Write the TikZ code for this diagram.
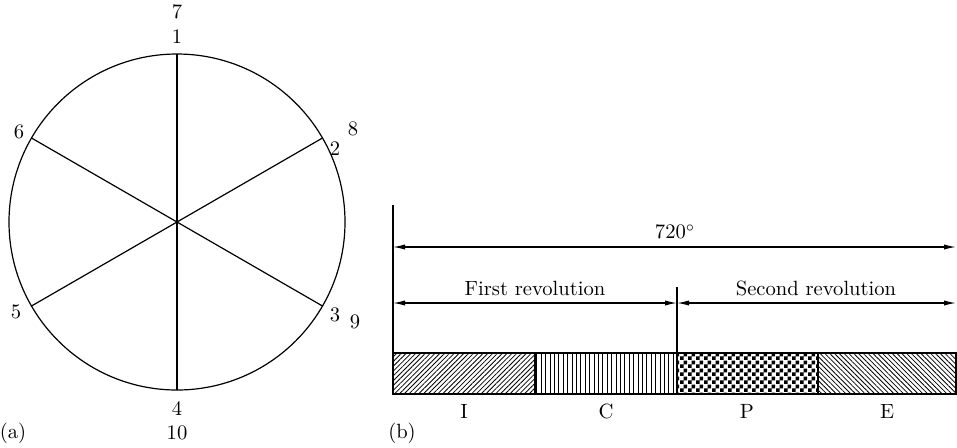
\documentclass[tikz,border=0pt]{standalone}
\usetikzlibrary{arrows.meta,patterns,patterns.meta,calc}
\pgfdeclarepatternformonly{finechecker}{\pgfqpoint{0pt}{0pt}}{\pgfqpoint{4pt}{4pt}}{\pgfqpoint{4pt}{4pt}}{%
  \pgfpathrectangle{\pgfqpoint{0pt}{0pt}}{\pgfqpoint{2pt}{2pt}}%
  \pgfpathrectangle{\pgfqpoint{2pt}{2pt}}{\pgfqpoint{2pt}{2pt}}%
  \pgfusepath{fill}}
\begin{document}
\begin{tikzpicture}[x=0.5pt,y=-0.5pt,
  lbl/.style={inner sep=0pt,font=\fontsize{10.3}{12}\selectfont},
  thin line/.style={line width=0.6pt},
  dim/.style={line width=0.6pt,{Latex[length=6pt,width=2.6pt]}-{Latex[length=6pt,width=2.6pt]}},
  seg/.style={draw,line width=0.7pt}]
\useasboundingbox (0,0) rectangle (957,447);
% ---- (a) circle ----
\coordinate (O) at (177,222);
\draw[thin line] (O) circle[radius=168];
\foreach \n/\a in {p1/-90,p2/-30,p3/30,p4/90,p5/150,p6/210}
  \coordinate (\n) at ($(O)+(\a:168)$);
\draw[thin line] (p1) -- (p4);
\draw[thin line] (p2) -- (p5);
\draw[thin line] (p3) -- (p6);
\node[lbl] (l7) at (177,12) {7};
\node[lbl] (l1) at (177,37) {1};
\node[lbl] (l2) at (335,149) {2};
\node[lbl] (l8) at (353,129) {8};
\node[lbl] (l3) at (335,315) {3};
\node[lbl] (l9) at (355,322) {9};
\node[lbl] (l4) at (177,409) {4};
\node[lbl] (l10) at (177,433) {10};
\node[lbl] (l5) at (16,312) {5};
\node[lbl] (l6) at (19,132) {6};
\node[lbl] (la) at (13,433) {(a)};
% ---- (b) bar ----
\coordinate (b0) at (393,353);
\coordinate (b1) at (535,394);
\coordinate (b1t) at (535,353);
\coordinate (b2) at (677,394);
\coordinate (b2t) at (677,353);
\coordinate (b3) at (818,394);
\coordinate (b3t) at (818,353);
\coordinate (b4) at (956,394);
\path[pattern={Lines[angle=45,distance=1.7pt,line width=0.4pt]}] (b0) rectangle (b1);
\path[pattern={Lines[angle=90,distance=2.2pt,line width=0.4pt]}] (b1t) rectangle (b2);
\path[pattern=finechecker] (b2t) rectangle (b3);
\path[pattern={Lines[angle=-45,distance=1.7pt,line width=0.4pt]}] (b3t) rectangle (b4);
\draw[seg] (b0) rectangle (b1);
\draw[seg] (b1t) rectangle (b2);
\draw[seg] (b2t) rectangle (b3);
\draw[seg] (b3t) rectangle (b4);
\node[lbl] (tI) at (464,411) {I};
\node[lbl] (tC) at (606,411) {C};
\node[lbl] (tP) at (747,411) {P};
\node[lbl] (tE) at (887,411) {E};
\node[lbl] (lb) at (402,433) {(b)};
% dimension lines
\coordinate (v0) at (393,205);
\coordinate (v1) at (393,353);
\draw[thin line] (v0) -- (v1);
\coordinate (m0) at (677,287);
\coordinate (m1) at (677,353);
\draw[thin line] (m0) -- (m1);
\coordinate (a0) at (393,247);
\coordinate (a1) at (956,247);
\draw[dim] (a0) -- (a1);
\node[lbl] (t720) at (675,232) {720$^\circ$};
\coordinate (f0) at (393,303);
\coordinate (f1) at (677,303);
\coordinate (s1) at (956,303);
\draw[dim] (f0) -- (f1);
\draw[dim] (f1) -- (s1);
\node[lbl] (tf) at (535,288) {First revolution};
\node[lbl] (ts) at (816,288) {Second revolution};
\end{tikzpicture}
\end{document}
